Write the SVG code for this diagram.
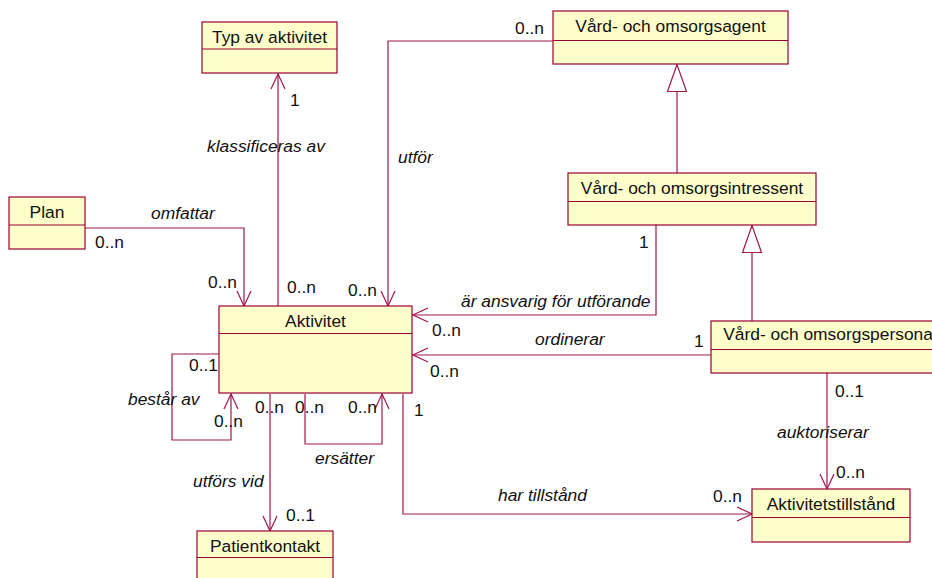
<svg xmlns="http://www.w3.org/2000/svg" width="932" height="578" viewBox="0 0 932 578">
<style>
.box{fill:#FFFFCC;stroke:#990033;stroke-width:1.2}
.div{stroke:#990033;stroke-width:1.2}
.t{font-family:"Liberation Sans",Arial,sans-serif;font-size:17.4px;fill:#111}
.c{text-anchor:middle}
.i{font-style:italic}
.ln{fill:none;stroke:#A0184E;stroke-width:1.2}
.a{marker-end:url(#open)}
.g{marker-end:url(#tri)}
</style>
<defs>
<marker id="open" viewBox="-16 -8 17 16" refX="0" refY="0" markerWidth="17" markerHeight="16" markerUnits="userSpaceOnUse" orient="auto">
<path d="M-15,-7 L0,0 L-15,7" fill="none" stroke="#A0184E" stroke-width="1.2"/>
</marker>
<marker id="tri" viewBox="-29 -11 30 22" refX="0" refY="0" markerWidth="30" markerHeight="22" markerUnits="userSpaceOnUse" orient="auto">
<path d="M0,0 L-27,-9.5 L-27,9.5 Z" fill="#fff" stroke="#A0184E" stroke-width="1.2"/>
</marker>
</defs>
<rect width="932" height="578" fill="#fff"/>
<g id="connectors">
<path class="ln a" d="M278,306 V74"/>
<path class="ln a" d="M85,228 H244 V306"/>
<path class="ln a" d="M553,41 H388 V306"/>
<path class="ln a" d="M656,225 V315 H413"/>
<path class="ln a" d="M711,355 H413"/>
<path class="ln a" d="M219,354 H172 V440 H231 V394"/>
<path class="ln a" d="M270,394 V531"/>
<path class="ln a" d="M305,394 V444 H382 V394"/>
<path class="ln a" d="M403,394 V514 H752"/>
<path class="ln a" d="M827,373 V489"/>
<path class="ln g" d="M677,173 V64.5"/>
<path class="ln g" d="M752,321 V225.5"/>
</g>
<g id="typ-av-aktivitet">
<rect class="box" x="202" y="22" width="135" height="51"/>
<line class="div" x1="202" y1="49" x2="337" y2="49"/>
<text class="t c" x="269.5" y="43">Typ av aktivitet</text>
</g>
<g id="vard-och-omsorgsagent">
<rect class="box" x="553" y="11" width="235" height="53"/>
<line class="div" x1="553" y1="40.5" x2="788" y2="40.5"/>
<text class="t c" x="670.5" y="32">Vård- och omsorgsagent</text>
</g>
<g id="plan">
<rect class="box" x="9" y="197" width="76" height="52"/>
<line class="div" x1="9" y1="225" x2="85" y2="225"/>
<text class="t c" x="47" y="218">Plan</text>
</g>
<g id="vard-och-omsorgsintressent">
<rect class="box" x="568" y="173" width="248" height="52"/>
<line class="div" x1="568" y1="201.5" x2="816" y2="201.5"/>
<text class="t c" x="692" y="194">Vård- och omsorgsintressent</text>
</g>
<g id="aktivitet">
<rect class="box" x="219" y="306" width="193" height="87"/>
<line class="div" x1="219" y1="333.5" x2="412" y2="333.5"/>
<text class="t c" x="315.5" y="327">Aktivitet</text>
</g>
<g id="vard-och-omsorgspersonal">
<rect class="box" x="711" y="321" width="238" height="52"/>
<line class="div" x1="711" y1="349.5" x2="949" y2="349.5"/>
<text class="t c" x="830" y="340">Vård- och omsorgspersonal</text>
</g>
<g id="patientkontakt">
<rect class="box" x="197" y="531" width="136" height="60"/>
<line class="div" x1="197" y1="557.5" x2="333" y2="557.5"/>
<text class="t c" x="265" y="552">Patientkontakt</text>
</g>
<g id="aktivitetstillstand">
<rect class="box" x="752" y="489" width="158" height="53"/>
<line class="div" x1="752" y1="517.5" x2="910" y2="517.5"/>
<text class="t c" x="831" y="510">Aktivitetstillstånd</text>
</g>
<g id="labels">
<text class="t" x="290" y="106">1</text>
<text class="t i" x="207" y="152">klassificeras av</text>
<text class="t" x="515" y="34">0..n</text>
<text class="t i" x="398" y="163">utför</text>
<text class="t i" x="151" y="219">omfattar</text>
<text class="t" x="95" y="248">0..n</text>
<text class="t" x="208" y="288">0..n</text>
<text class="t" x="287" y="293">0..n</text>
<text class="t" x="348" y="296">0..n</text>
<text class="t" x="639" y="248">1</text>
<text class="t i" x="461" y="307">är ansvarig för utförande</text>
<text class="t" x="432" y="336">0..n</text>
<text class="t i" x="535" y="345">ordinerar</text>
<text class="t" x="430" y="377">0..n</text>
<text class="t" x="694" y="347">1</text>
<text class="t" x="189" y="371">0..1</text>
<text class="t i" x="128" y="405">består av</text>
<text class="t" x="214" y="427">0..n</text>
<text class="t" x="255" y="413">0..n</text>
<text class="t" x="295" y="413">0..n</text>
<text class="t" x="348" y="413">0..n</text>
<text class="t" x="414" y="416">1</text>
<text class="t i" x="315" y="464">ersätter</text>
<text class="t i" x="193" y="487">utförs vid</text>
<text class="t" x="286" y="521">0..1</text>
<text class="t i" x="498" y="501">har tillstånd</text>
<text class="t" x="713" y="502">0..n</text>
<text class="t" x="835" y="397">0..1</text>
<text class="t i" x="777" y="438">auktoriserar</text>
<text class="t" x="836" y="478">0..n</text>
</g>
</svg>
